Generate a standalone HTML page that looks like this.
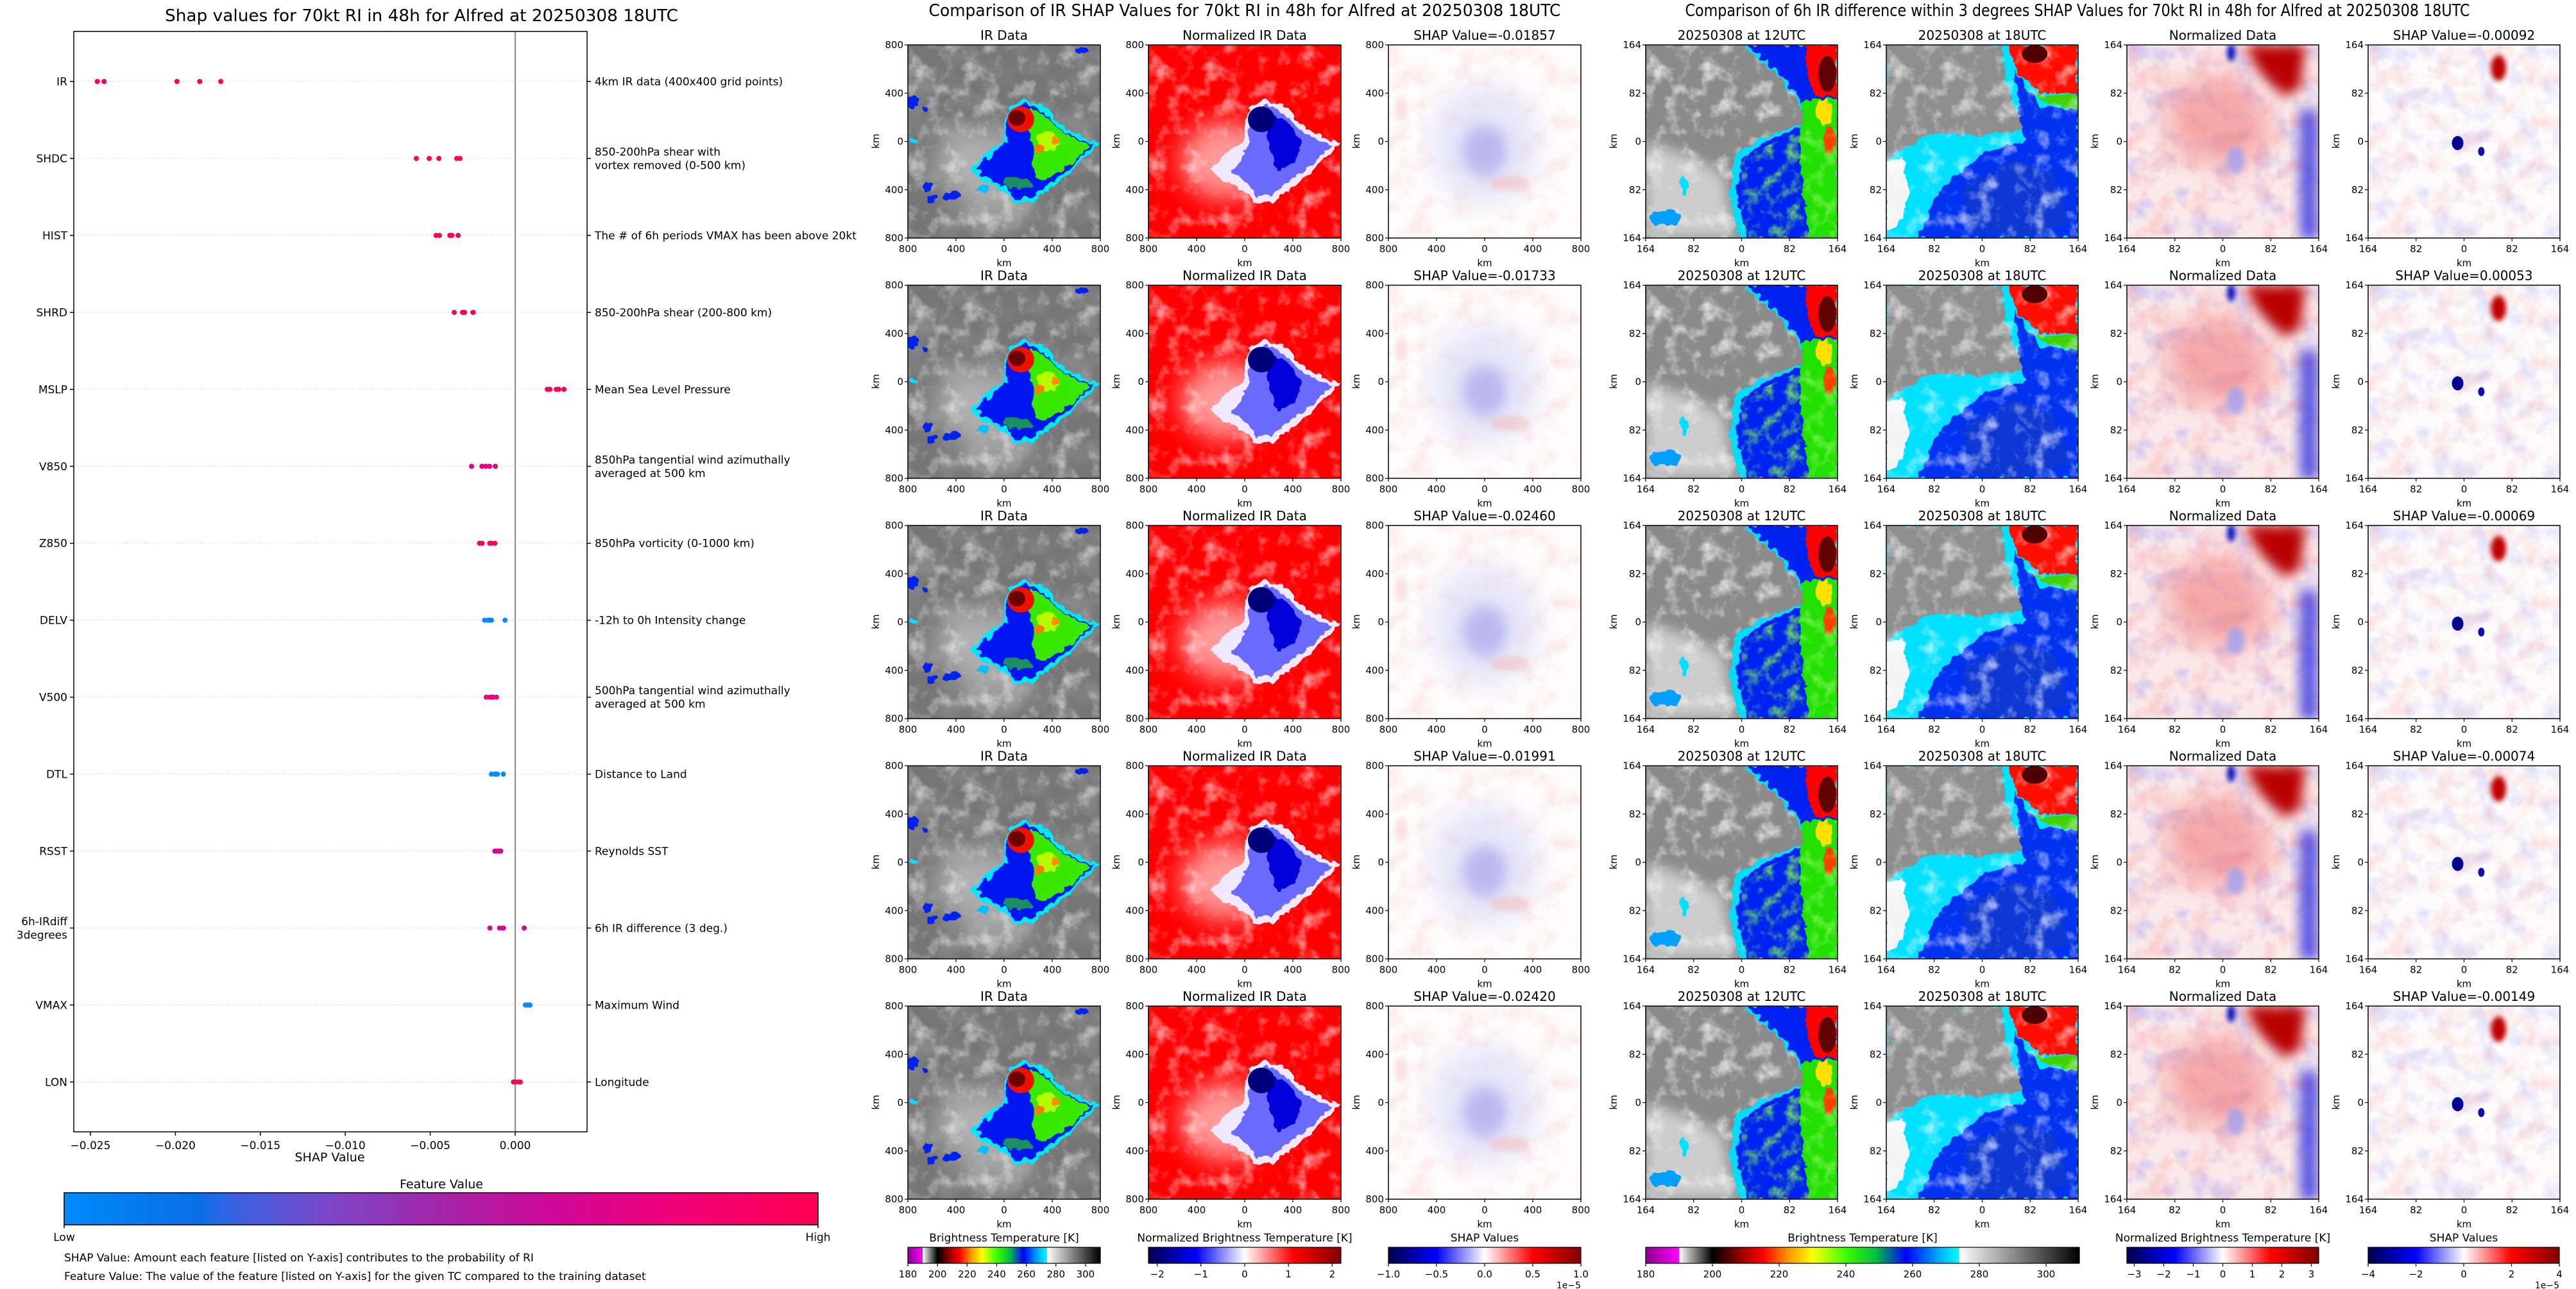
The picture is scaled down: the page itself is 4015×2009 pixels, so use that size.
<!DOCTYPE html>
<html><head><meta charset="utf-8"><title>SHAP RI Alfred</title>
<style>
html,body{margin:0;padding:0;background:#fff;}
svg{display:block;font-family:"DejaVu Sans","Liberation Sans",sans-serif;}
</style></head>
<body>
<svg id="fig" xmlns="http://www.w3.org/2000/svg" width="4015" height="2009" viewBox="0 0 4015 2009">
<defs>
  <linearGradient id="gFeat" x1="0" x2="1" y1="0" y2="0">
    <stop offset="0" stop-color="#008afb"/><stop offset="0.18" stop-color="#0a6ee6"/><stop offset="0.23" stop-color="#3d60e0"/>
    <stop offset="0.35" stop-color="#7a48c8"/><stop offset="0.5" stop-color="#a424a8"/><stop offset="0.65" stop-color="#d00898"/>
    <stop offset="0.8" stop-color="#ee007a"/><stop offset="1" stop-color="#ff0052"/>
  </linearGradient>
  <linearGradient id="gBT" x1="0" x2="1" y1="0" y2="0">
    <stop offset="0" stop-color="#8a008a"/><stop offset="0.0769" stop-color="#ff00ff"/><stop offset="0.0769" stop-color="#ffffff"/>
    <stop offset="0.1538" stop-color="#000000"/><stop offset="0.23" stop-color="#b00000"/><stop offset="0.27" stop-color="#ff0000"/>
    <stop offset="0.33" stop-color="#ff9900"/><stop offset="0.385" stop-color="#ffff00"/><stop offset="0.46" stop-color="#40ff00"/>
    <stop offset="0.53" stop-color="#00c040"/><stop offset="0.6" stop-color="#0000ff"/><stop offset="0.67" stop-color="#00a0ff"/>
    <stop offset="0.723" stop-color="#00ffff"/><stop offset="0.723" stop-color="#ffffff"/><stop offset="1" stop-color="#000000"/>
  </linearGradient>
  <linearGradient id="gSeis" x1="0" x2="1" y1="0" y2="0">
    <stop offset="0" stop-color="#00004d"/><stop offset="0.25" stop-color="#0000ff"/><stop offset="0.5" stop-color="#ffffff"/>
    <stop offset="0.75" stop-color="#ff0000"/><stop offset="1" stop-color="#800000"/>
  </linearGradient>
  <filter id="cloudW" filterUnits="userSpaceOnUse" x="0" y="0" width="300" height="301">
    <feTurbulence type="fractalNoise" baseFrequency="0.035" numOctaves="4" seed="3"/>
    <feColorMatrix type="matrix" values="0 0 0 0 1  0 0 0 0 1  0 0 0 0 1  3 0 0 0 -1.5"/>
  </filter>
  <filter id="cloudD" filterUnits="userSpaceOnUse" x="0" y="0" width="300" height="301">
    <feTurbulence type="fractalNoise" baseFrequency="0.02" numOctaves="3" seed="9"/>
    <feColorMatrix type="matrix" values="0 0 0 0 0.3  0 0 0 0 0.3  0 0 0 0 0.3  2 0 0 0 -0.9"/>
  </filter>
  <filter id="noiseB" filterUnits="userSpaceOnUse" x="0" y="0" width="300" height="301">
    <feTurbulence type="fractalNoise" baseFrequency="0.03" numOctaves="3" seed="5"/>
    <feColorMatrix type="matrix" values="0 0 0 0 0.3  0 0 0 0 0.3  0 0 0 0 0.95  2.2 0 0 0 -1.05"/>
  </filter>
  <filter id="noiseR" filterUnits="userSpaceOnUse" x="0" y="0" width="300" height="301">
    <feTurbulence type="fractalNoise" baseFrequency="0.03" numOctaves="3" seed="11"/>
    <feColorMatrix type="matrix" values="0 0 0 0 0.95  0 0 0 0 0.35  0 0 0 0 0.35  2.2 0 0 0 -1.0"/>
  </filter>
  <filter id="noiseG" filterUnits="userSpaceOnUse" x="0" y="0" width="300" height="301">
    <feTurbulence type="fractalNoise" baseFrequency="0.05" numOctaves="3" seed="7"/>
    <feColorMatrix type="matrix" values="0 0 0 0 0.2  0 0 0 0 0.9  0 0 0 0 0.1  3 0 0 0 -1.4"/>
  </filter>
  <filter id="rough" x="-20%" y="-20%" width="140%" height="140%">
    <feTurbulence type="fractalNoise" baseFrequency="0.08" numOctaves="2" seed="4" result="t"/>
    <feDisplacementMap in="SourceGraphic" in2="t" scale="14" xChannelSelector="R" yChannelSelector="G"/>
  </filter>
  <filter id="b4" x="-50%" y="-50%" width="200%" height="200%"><feGaussianBlur stdDeviation="4"/></filter>
  <filter id="b10" x="-50%" y="-50%" width="200%" height="200%"><feGaussianBlur stdDeviation="10"/></filter>
  <filter id="b20" x="-50%" y="-50%" width="200%" height="200%"><feGaussianBlur stdDeviation="20"/></filter>
  <clipPath id="clipP"><rect x="0" y="0" width="300" height="301"/></clipPath>
  <clipPath id="clipG"><polygon points="150,175 250,130 299,130 299,301 150,301"/></clipPath>

  <g id="irImg" clip-path="url(#clipP)">
    <rect width="300" height="301" fill="#767676"/>
    <rect width="300" height="301" filter="url(#cloudD)"/>
    <ellipse cx="115" cy="185" rx="75" ry="55" fill="#d4d4d4" opacity="0.6" filter="url(#b20)"/>
    <ellipse cx="140" cy="250" rx="60" ry="30" fill="#c8c8c8" opacity="0.5" filter="url(#b20)"/>
    <rect width="300" height="301" filter="url(#cloudW)" opacity="0.5"/>
    <g filter="url(#rough)">
      <polygon points="157,96 180,86 207,93 224,108 242,128 270,142 300,155 268,182 250,202 230,217 200,242 165,247 150,228 110,207 98,190 125,168 137,157 148,150 152,120" fill="#00e8ff"/>
      <polygon points="160,102 182,92 205,99 220,113 238,133 265,146 292,156 263,178 246,198 226,212 198,236 168,240 153,223 115,203 108,190 130,172 142,160 152,150 156,120" fill="#0018f0"/>
      <polygon points="190,100 207,104 222,118 240,136 265,149 286,157 262,176 244,193 225,205 205,212 192,190 195,160 188,130" fill="#38e800"/>
      <ellipse cx="218" cy="150" rx="18" ry="15" fill="#d8ff00" opacity="0.8"/>
      <ellipse cx="205" cy="162" rx="8" ry="6" fill="#ff8000"/>
      <ellipse cx="230" cy="148" rx="6" ry="5" fill="#ff9000"/>
      <ellipse cx="170" cy="215" rx="22" ry="10" fill="#30e000" opacity="0.6"/>
    </g>
    <ellipse cx="176" cy="116" rx="21" ry="20" fill="#ee1000"/>
    <ellipse cx="170" cy="114" rx="13" ry="12" fill="#6a0000"/>
    <g filter="url(#rough)" fill="#0020f0">
      <ellipse cx="65" cy="235" rx="14" ry="8"/><ellipse cx="38" cy="240" rx="10" ry="6"/><ellipse cx="30" cy="220" rx="8" ry="6"/>
      <ellipse cx="7" cy="90" rx="8" ry="10"/><ellipse cx="28" cy="100" rx="6" ry="6"/><ellipse cx="270" cy="8" rx="10" ry="5"/>
      <ellipse cx="8" cy="150" rx="6" ry="5" fill="#00e0ff"/><ellipse cx="118" cy="222" rx="10" ry="6" fill="#00c0ff"/>
    </g>
  </g>

  <g id="normImg" clip-path="url(#clipP)">
    <rect width="300" height="301" fill="#ff0000"/>
    <ellipse cx="120" cy="180" rx="70" ry="60" fill="#ffffff" opacity="0.6" filter="url(#b20)"/>
    <rect width="300" height="301" filter="url(#cloudW)" opacity="0.55"/>
    <g filter="url(#rough)">
      <polygon points="157,96 180,86 207,93 224,108 242,128 270,142 300,155 268,182 250,202 230,217 200,242 165,247 150,228 110,207 98,190 125,168 137,157 148,150 152,120" fill="#f0e8ff"/>
      <polygon points="162,104 184,94 205,101 220,115 238,135 262,148 288,157 260,178 244,196 224,210 198,232 170,236 156,218 130,200 145,180 152,160 158,130" fill="#6a6aff"/>
      <polygon points="190,110 210,115 225,130 240,150 230,175 215,190 200,195 190,170 185,140" fill="#0000d8"/>
    </g>
    <ellipse cx="176" cy="116" rx="21" ry="20" fill="#00007a"/>
  </g>

  <g id="shapImg" clip-path="url(#clipP)">
    <rect width="300" height="301" fill="#fefcfc"/>
    <rect width="300" height="301" filter="url(#noiseR)" opacity="0.25"/>
    <ellipse cx="150" cy="155" rx="85" ry="95" fill="#d8d8f8" opacity="0.6" filter="url(#b20)"/>
    <ellipse cx="150" cy="165" rx="35" ry="40" fill="#a8a8ee" opacity="0.7" filter="url(#b10)"/>
    <ellipse cx="190" cy="215" rx="30" ry="12" fill="#f4b8b8" opacity="0.5" filter="url(#b4)"/>
    <ellipse cx="20" cy="100" rx="10" ry="20" fill="#f6d0d0" opacity="0.6" filter="url(#b4)"/>
  </g>

  <g id="r12Img" clip-path="url(#clipP)">
    <rect width="300" height="301" fill="#8a8a8a"/>
    <rect width="300" height="301" filter="url(#cloudW)" opacity="0.7"/>
    <polygon points="0,150 60,170 120,200 140,301 0,301" fill="#e8e8e8" opacity="0.7" filter="url(#b10)"/>
    <g filter="url(#rough)">
      <polygon points="150,0 200,40 238,85 257,118 169,151 140,171 130,240 150,301 299,301 299,0" fill="#00ddff"/>
      <polygon points="158,0 205,40 243,85 262,120 178,155 150,180 142,240 160,301 299,301 299,0" fill="#0020f0"/>
      <polygon points="248,85 299,85 299,301 255,301 245,200 240,130" fill="#20e000"/>
      <polygon points="250,0 299,0 299,82 266,80 252,50" fill="#ff0000"/>
      <ellipse cx="288" cy="150" rx="9" ry="22" fill="#ff4000"/>
      <ellipse cx="280" cy="105" rx="12" ry="20" fill="#ffe000"/>
      <ellipse cx="30" cy="270" rx="25" ry="12" fill="#00a0ff"/>
      <ellipse cx="60" cy="220" rx="6" ry="14" fill="#00e0ff"/>
    </g>
    <g clip-path="url(#clipG)"><rect width="300" height="301" filter="url(#noiseG)" opacity="0.8"/></g>
    <ellipse cx="284" cy="45" rx="14" ry="28" fill="#600000"/>
  </g>

  <g id="r18Img" clip-path="url(#clipP)">
    <rect width="300" height="301" fill="#00e0ff"/>
    <g filter="url(#rough)">
      <polygon points="0,0 181,0 186,58 200,95 225,131 150,140 68,138 0,178" fill="#8e8e8e"/>
      <polygon points="200,40 240,95 299,100 299,301 50,301 80,230 150,170 215,150" fill="#0030f0"/>
      <polygon points="120,220 200,180 260,200 290,280 200,301 130,290" fill="#1040c0" opacity="0.6"/>
      <polygon points="0,180 25,175 35,230 20,280 0,290" fill="#f4f4f4"/>
      <polygon points="191,0 299,0 299,76 240,74 205,45" fill="#ff1000"/>
      <polygon points="230,76 299,78 299,100 250,90" fill="#40d000"/>
    </g>
    <rect width="300" height="140" filter="url(#cloudW)" opacity="0.6" clip-path="url(#clipP)"/>
    <ellipse cx="232" cy="14" rx="20" ry="14" fill="#500000"/>
  </g>

  <g id="rNormImg" clip-path="url(#clipP)">
    <rect width="300" height="301" fill="#fbeaea"/>
    <rect width="300" height="301" filter="url(#noiseB)" opacity="0.5"/>
    <rect width="300" height="301" filter="url(#noiseR)" opacity="0.5"/>
    <polygon points="60,70 170,40 235,130 180,200 70,170" fill="#f28080" opacity="0.6" filter="url(#b20)"/>
    <polygon points="185,0 280,0 270,70 245,80 205,40" fill="#b80000" filter="url(#b10)"/>
    <rect x="270" y="100" width="29" height="201" fill="#2828e0" opacity="0.75" filter="url(#b10)"/>
    <ellipse cx="163" cy="12" rx="6" ry="14" fill="#0010c0" filter="url(#b4)"/>
    <ellipse cx="170" cy="180" rx="14" ry="22" fill="#a0a0f0" opacity="0.8" filter="url(#b4)"/>
  </g>

  <g id="rShapImg" clip-path="url(#clipP)">
    <rect width="300" height="301" fill="#fdfbfb"/>
    <rect width="300" height="301" filter="url(#noiseB)" opacity="0.35"/>
    <rect width="300" height="301" filter="url(#noiseR)" opacity="0.35"/>
    <ellipse cx="204" cy="36" rx="12" ry="20" fill="#c00000" filter="url(#b4)"/>
    <ellipse cx="140" cy="153" rx="9" ry="11" fill="#000090"/>
    <ellipse cx="177" cy="166" rx="5" ry="7" fill="#1010b0"/>
  </g>
</defs>

<text x="657" y="33" font-size="26" text-anchor="middle" textLength="800" lengthAdjust="spacingAndGlyphs">Shap values for 70kt RI in 48h for Alfred at 20250308 18UTC</text>
<text x="1940" y="25" font-size="26" text-anchor="middle" textLength="985" lengthAdjust="spacingAndGlyphs">Comparison of IR SHAP Values for 70kt RI in 48h for Alfred at 20250308 18UTC</text>
<text x="3238" y="25" font-size="26" text-anchor="middle" textLength="1223" lengthAdjust="spacingAndGlyphs">Comparison of 6h IR difference within 3 degrees SHAP Values for 70kt RI in 48h for Alfred at 20250308 18UTC</text>

<g id="summary"></g>
<g id="panels"></g>
<g id="cbars"></g>
</svg>

<script>
// ---- SHAP summary data ----
const featureNames = ['IR','SHDC','HIST','SHRD','MSLP','V850','Z850','DELV','V500','DTL','RSST','6h-IRdiff\n3degrees','VMAX','LON'];
const featureDescs = ['4km IR data (400x400 grid points)','850-200hPa shear with\nvortex removed (0-500 km)','The # of 6h periods VMAX has been above 20kt','850-200hPa shear (200-800 km)','Mean Sea Level Pressure','850hPa tangential wind azimuthally\naveraged at 500 km','850hPa vorticity (0-1000 km)','-12h to 0h Intensity change','500hPa tangential wind azimuthally\naveraged at 500 km','Distance to Land','Reynolds SST','6h IR difference (3 deg.)','Maximum Wind','Longitude'];
const featureLevels = [1.0,1.0,1.0,1.0,1.0,0.78,1.0,0.0,0.78,0.0,0.7,0.7,0.0,0.95];
const shapIR   = [-0.01857,-0.01733,-0.02460,-0.01991,-0.02420];
const shapSHDC = [-0.00582,-0.00506,-0.00449,-0.00344,-0.00325];
const shapHIST = [-0.00466,-0.00446,-0.00385,-0.00372,-0.00336];
const shapSHRD = [-0.00359,-0.00310,-0.00298,-0.00249,-0.00247];
const shapMSLP = [0.00189,0.00204,0.00242,0.00257,0.00287];
const shapV850 = [-0.00257,-0.00196,-0.00174,-0.00151,-0.00117];
const shapZ850 = [-0.00210,-0.00195,-0.00150,-0.00140,-0.00120];
const shapDELV = [-0.00180,-0.00160,-0.00150,-0.00140,-0.00060];
const shapV500 = [-0.00170,-0.00150,-0.00140,-0.00130,-0.00110];
const shapDTL  = [-0.00140,-0.00120,-0.00110,-0.00105,-0.00070];
const shapRSST = [-0.00120,-0.00110,-0.00100,-0.00095,-0.00085];
const shapIRdiff = [-0.00092,0.00053,-0.00069,-0.00074,-0.00149];
const shapVMAX = [0.00060,0.00070,0.00075,0.00080,0.00087];
const shapLON  = [-0.00010,0.00000,0.00020,0.00025,0.00030];
const rowValues = [shapIR,shapSHDC,shapHIST,shapSHRD,shapMSLP,shapV850,shapZ850,shapDELV,shapV500,shapDTL,shapRSST,shapIRdiff,shapVMAX,shapLON];
const xTicks = [-0.025,-0.020,-0.015,-0.010,-0.005,0.000];
const xTickLabels = ['\u22120.025','\u22120.020','\u22120.015','\u22120.010','\u22120.005','0.000'];

// ---- panel data ----
const irShapTitles = shapIR;
const diffShapTitles = shapIRdiff;
const irAxisTicks = ['800','400','0','400','800'];
const diffAxisTicks = ['164','82','0','82','164'];
const btTicks = [180,200,220,240,260,280,300];
const normTicksMid = [-2,-1,0,1,2];
const normTicksRight = [-3,-2,-1,0,1,2,3];
const shapTicksMid = [-1.0,-0.5,0.0,0.5,1.0];
const shapTicksRight = [-4,-2,0,2,4];

const NS = 'http://www.w3.org/2000/svg';
function mk(tag, attrs, parent){ const e=document.createElementNS(NS,tag); for(const k in attrs) e.setAttribute(k,attrs[k]); parent.appendChild(e); return e; }
function tx(str, attrs, parent){ const e=mk('text',attrs,parent); e.textContent=str; return e; }

// ---- summary plot ----
const S = document.getElementById('summary');
const AX = {l:115, r:915, t:49, b:1764, zero:803, per:132.4};
function xS(v){ return AX.zero + v/0.005*AX.per; }
function yRow(i){ return 127 + i*119.95; }
const featStops = [[0,[0,138,251]],[0.18,[10,110,230]],[0.23,[61,96,224]],[0.35,[122,72,200]],[0.5,[164,36,168]],[0.65,[208,8,152]],[0.8,[238,0,122]],[1,[255,0,82]]];
function featColor(t){ for(let i=1;i<featStops.length;i++){ const a=featStops[i-1],b=featStops[i]; if(t<=b[0]){ const f=(t-a[0])/(b[0]-a[0]||1); const c=a[1].map((v,k)=>Math.round(v+(b[1][k]-v)*f)); return 'rgb('+c.join(',')+')'; } } return 'rgb(255,0,82)'; }

featureNames.forEach((name,i)=>{
  const y = yRow(i);
  const gl = mk('line',{x1:AX.l,x2:AX.r,y1:y,y2:y,stroke:'#cccccc','stroke-width':1.2,'stroke-dasharray':'1.5,4'},S);
  
  
  const tl = mk('line',{x1:AX.l-6,x2:AX.l,y1:y,y2:y,stroke:'#000','stroke-width':1.5},S);
  
  
  const tr = mk('line',{x1:AX.r,x2:AX.r+6,y1:y,y2:y,stroke:'#000','stroke-width':1.5},S);
  
  
  const lines = name.split('\n');
  lines.forEach((ln,k)=>{
    const t = tx(ln,{x:AX.l-10,y:y+6+(k-(lines.length-1)/2)*21,'font-size':17,'text-anchor':'end'},S);
    
    
  });
  const dl = featureDescs[i].split('\n');
  dl.forEach((ln,k)=>{
    const t = tx(ln,{x:AX.r+12,y:y+6+(k-(dl.length-1)/2)*21,'font-size':17},S);
    
    
  });
});
const zl = mk('line',{x1:AX.zero,x2:AX.zero,y1:AX.t,y2:AX.b,stroke:'#999','stroke-width':2.5},S);


rowValues.forEach((vals,i)=>{
  vals.forEach(v=>{
    const c = mk('circle',{cx:xS(v),cy:yRow(i),r:4,fill:featColor(featureLevels[i])},S);
    
    
  });
});
const frame = mk('rect',{x:AX.l,y:AX.t,width:AX.r-AX.l,height:AX.b-AX.t,fill:'none',stroke:'#000','stroke-width':1.5},S);


xTicks.forEach((v,k)=>{
  const l = mk('line',{x1:xS(v),x2:xS(v),y1:AX.b,y2:AX.b+6,stroke:'#000','stroke-width':1.5},S);
  
  
  const t = tx(xTickLabels[k],{x:xS(v),y:AX.b+27,'font-size':17,'text-anchor':'middle'},S);
  
  
});
const xl = tx('SHAP Value',{x:514,y:1810,'font-size':19,'text-anchor':'middle'},S);


const fvT = tx('Feature Value',{x:688,y:1852,'font-size':19,'text-anchor':'middle'},S);


const fvB = mk('rect',{x:100,y:1859,width:1175,height:50,fill:'url(#gFeat)',stroke:'#000','stroke-width':1.5},S);


[['Low',100],['High',1275]].forEach(p=>{
  const l = mk('line',{x1:p[1],x2:p[1],y1:1909,y2:1914,stroke:'#000','stroke-width':1.5},S);
  
  
  const t = tx(p[0],{x:p[1],y:1934,'font-size':17,'text-anchor':'middle'},S);
  
  
});
const n1 = tx('SHAP Value: Amount each feature [listed on Y-axis] contributes to the probability of RI',{x:100,y:1966,'font-size':17},S);


const n2 = tx('Feature Value: The value of the feature [listed on Y-axis] for the given TC compared to the training dataset',{x:100,y:1995,'font-size':17},S);



// ---- image panels ----
const P = document.getElementById('panels');
const midX = [1415,1790,2164];
const rightX = [2565,2940,3315,3691];
function rowTop(r){ return 70 + r*374.5; }
function panel(x,y,w,img,title,ticks){
  const g = mk('g',{transform:'translate('+x+','+y+')'},P);
  
  
  const u = mk('use',{href:'#'+img,transform:'scale('+(w/300)+',1)'},g);
  
  
  const fr = mk('rect',{x:0,y:0,width:w,height:301,fill:'none',stroke:'#000','stroke-width':1.5},g);
  
  
  const t = tx(title,{x:w/2,y:-8,'font-size':20,'text-anchor':'middle'},g);
  
  
  ticks.forEach((lab,k)=>{
    const px = k*w/4, py = k*301/4;
    const a = mk('line',{x1:px,x2:px,y1:301,y2:306,stroke:'#000','stroke-width':1.2},g);
    
    
    const b = tx(lab,{x:px,y:323,'font-size':15,'text-anchor':'middle'},g);
    
    
    const c = mk('line',{x1:-5,x2:0,y1:py,y2:py,stroke:'#000','stroke-width':1.2},g);
    
    
    const d = tx(lab,{x:-7,y:py+5,'font-size':15,'text-anchor':'end'},g);
    
    
  });
  const kx = tx('km',{x:w/2,y:345,'font-size':15,'text-anchor':'middle'},g);
  
  
  const ky = tx('km',{x:0,y:0,'font-size':15,'text-anchor':'middle',transform:'translate(-45,150) rotate(-90)'},g);
  
  
}
for(let r=0;r<5;r++){
  const y = rowTop(r);
  panel(midX[0],y,300,'irImg','IR Data',irAxisTicks);
  panel(midX[1],y,300,'normImg','Normalized IR Data',irAxisTicks);
  panel(midX[2],y,300,'shapImg','SHAP Value='+irShapTitles[r].toFixed(5),irAxisTicks);
  panel(rightX[0],y,299,'r12Img','20250308 at 12UTC',diffAxisTicks);
  panel(rightX[1],y,299,'r18Img','20250308 at 18UTC',diffAxisTicks);
  panel(rightX[2],y,299,'rNormImg','Normalized Data',diffAxisTicks);
  panel(rightX[3],y,299,'rShapImg','SHAP Value='+diffShapTitles[r].toFixed(5),diffAxisTicks);
}

// ---- colorbars ----
const C = document.getElementById('cbars');
function cbar(x,w,grad,title,ticks,lo,hi,fmt,exp){
  const g = mk('g',{transform:'translate('+x+',1944)'},C);
  
  
  const t = tx(title,{x:w/2,y:-9,'font-size':17,'text-anchor':'middle'},g);
  
  
  const b = mk('rect',{x:0,y:0,width:w,height:25,fill:'url(#'+grad+')',stroke:'#000','stroke-width':1.2},g);
  
  
  ticks.forEach(v=>{
    const px = (v-lo)/(hi-lo)*w;
    const l = mk('line',{x1:px,x2:px,y1:25,y2:30,stroke:'#000','stroke-width':1.2},g);
    
    
    const s = tx(fmt(v),{x:px,y:47,'font-size':15,'text-anchor':'middle'},g);
    
    
  });
  if(exp){
    const e = tx('1e\u22125',{x:w,y:64,'font-size':14,'text-anchor':'end'},g);
    
    
  }
}
const fInt = v => (v<0?'\u2212':'')+Math.abs(v);
const fOne = v => (v<0?'\u2212':'')+Math.abs(v).toFixed(1);
cbar(1415,300,'gBT','Brightness Temperature [K]',btTicks,180,310,fInt,false);
cbar(1790,300,'gSeis','Normalized Brightness Temperature [K]',normTicksMid,-2.2,2.2,fInt,false);
cbar(2164,300,'gSeis','SHAP Values',shapTicksMid,-1,1,fOne,true);
cbar(2565,676,'gBT','Brightness Temperature [K]',btTicks,180,310,fInt,false);
cbar(3315,299,'gSeis','Normalized Brightness Temperature [K]',normTicksRight,-3.25,3.25,fInt,false);
cbar(3691,298,'gSeis','SHAP Values',shapTicksRight,-4,4,fInt,true);
</script>
</body></html>
